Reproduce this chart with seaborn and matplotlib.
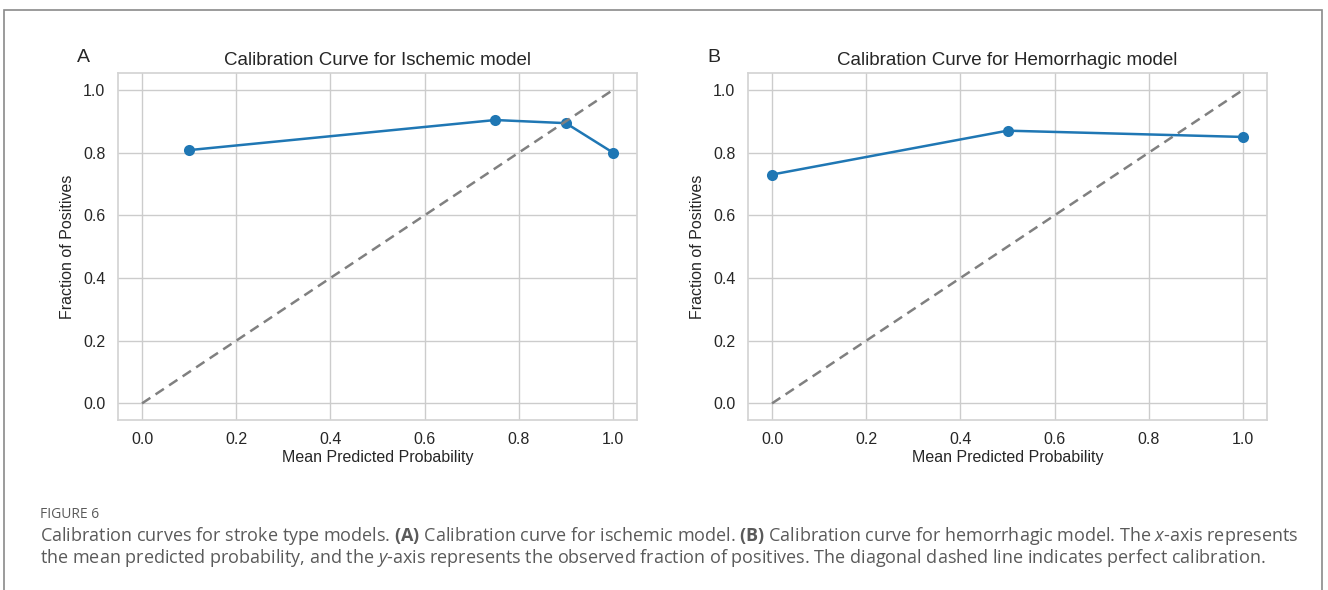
import numpy as np
import pandas as pd
import seaborn as sns
from matplotlib import pyplot as plt
from matplotlib.patches import Rectangle

# calibration points
isch_pred = [0.1, 0.75, 0.9, 1.0]
isch_frac = [0.808, 0.904, 0.894, 0.800]
hem_pred = [0.0, 0.5, 1.0]
hem_frac = [0.730, 0.870, 0.850]
diag = [0.0, 1.0]
ticks = [0.0, 0.2, 0.4, 0.6, 0.8, 1.0]

sns.set_theme(style='whitegrid')
plt.rcParams['font.family'] = ['Liberation Sans', 'DejaVu Sans']
plt.rcParams['mathtext.fontset'] = 'custom'
plt.rcParams['mathtext.rm'] = 'Open Sans'
plt.rcParams['mathtext.it'] = 'Open Sans:italic'
plt.rcParams['mathtext.bf'] = 'Open Sans:bold'

fig = plt.figure(figsize=(13.28, 5.90), dpi=100)

# figure frame
fig.patches.append(Rectangle((4/1328, -0.05), 1318/1328, 1.05 - 10/590,
                             transform=fig.transFigure, fill=False,
                             edgecolor='#8a8a8a', lw=1.2))

panels = [
	(118, 'A', 'Calibration Curve for Ischemic model', isch_pred, isch_frac),
	(748, 'B', 'Calibration Curve for Hemorrhagic model', hem_pred, hem_frac),
]

for left, letter, title, xs, ys in panels:
	ax = fig.add_axes([left/1328, 1 - 420/590, 519/1328, 347/590])
	df = pd.DataFrame({'pred': xs, 'frac': ys})
	sns.lineplot(data=df, x='pred', y='frac', marker='o', markersize=8,
	             color='#1f77b4', lw=1.8, markeredgewidth=0, ax=ax)
	ax.plot(diag, diag, ls='--', color='gray', lw=1.8, dashes=(4, 2.5))
	ax.set_xticks(ticks)
	ax.set_yticks(ticks)
	ax.set_xlim(-0.051, 1.051)
	ax.set_ylim(-0.053, 1.054)
	ax.tick_params(axis='x', labelsize=11.5, colors='#262626', pad=3)
	ax.tick_params(axis='y', labelsize=11.5, colors='#262626', pad=3)
	ax.set_xlabel('Mean Predicted Probability', fontsize=11.5, color='#262626', labelpad=2)
	ax.set_ylabel('Fraction of Positives', fontsize=11.5, color='#262626', labelpad=6)
	ax.set_title(title, fontsize=13.5, color='#262626', pad=6)
	for s in ax.spines.values():
		s.set_color('#d4d4d4')
	fig.text((left - 41)/1328, 1 - 57/590, letter, fontsize=14,
	         color='#262626', va='center', ha='left')

cap_color = '#5a5a5a'
cap_font = ['Open Sans', 'DejaVu Sans']
fig.text(40/1328, 1 - 514/590, 'FIGURE 6', fontsize=10, color=cap_color,
         family=cap_font, va='center')
fig.text(40/1328, 1 - 536/590,
         r'Calibration curves for stroke type models. $\mathbf{(A)}$ Calibration curve for ischemic model. '
         r'$\mathbf{(B)}$ Calibration curve for hemorrhagic model. The $\mathit{x}$-axis represents',
         fontsize=13, color=cap_color, family=cap_font, va='center')
fig.text(40/1328, 1 - 558/590,
         r'the mean predicted probability, and the $\mathit{y}$-axis represents the observed fraction of positives. '
         'The diagonal dashed line indicates perfect calibration.',
         fontsize=13, color=cap_color, family=cap_font, va='center')

fig.savefig('out.png', dpi=100)
